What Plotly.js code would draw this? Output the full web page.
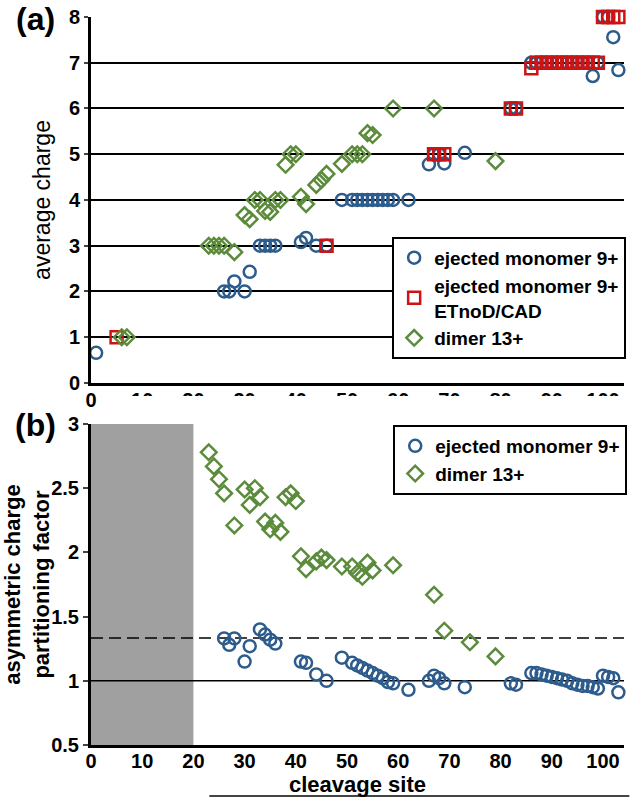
<!DOCTYPE html>
<html>
<head>
<meta charset="utf-8">
<script src="https://cdn.plot.ly/plotly-3.0.1.min.js"></script>
<style>html,body{margin:0;padding:0;background:#fff}</style>
</head>
<body>
<div id="chart" style="width:630px;height:797px"></div>
<script>
// (a) average charge vs cleavage site
var monoSiteA = [1, 26, 27, 28, 30, 31, 33, 34, 35, 36, 41, 42, 44, 46,
  49, 51, 52, 53, 54, 55, 56, 57, 58, 59, 62, 66, 67, 68, 69, 73, 82, 83,
  86, 87, 88, 89, 90, 91, 92, 93, 94, 95, 96, 97, 98, 99, 100, 101, 102, 103];
var monoChargeA = [0.66, 2, 2, 2.22, 2, 2.43, 3, 3, 3, 3, 3.08, 3.17, 3, 3,
  4, 4, 4, 4, 4, 4, 4, 4, 4, 4, 4, 4.78, 5, 5, 4.8, 5.03, 6, 6,
  7, 7, 7, 7, 7, 7, 7, 7, 7, 7, 7, 7, 6.71, 7, 8, 8, 7.56, 6.84];

var etdSiteA = [5, 46, 67, 68, 69, 82, 83, 86, 87, 88, 89, 90, 91, 92, 93,
  94, 95, 96, 97, 98, 99, 100, 101, 102, 103];
var etdChargeA = [1, 3, 5, 5, 5, 6, 6, 6.88, 7, 7, 7, 7, 7, 7, 7,
  7, 7, 7, 7, 7, 7, 8, 8, 8, 8];

var dimerSiteA = [6, 7, 23, 24, 25, 26, 28, 30, 31, 32, 33, 34, 35, 36, 37,
  38, 39, 40, 41, 42, 44, 45, 46, 49, 51, 52, 53, 54, 55, 59, 67, 79];
var dimerChargeA = [1, 1, 3, 3, 3, 3, 2.86, 3.67, 3.58, 4, 4, 3.76, 3.74, 4, 4,
  4.77, 5, 5, 4.07, 3.91, 4.33, 4.44, 4.57, 4.79, 5, 5, 5, 5.46, 5.42, 6, 6, 4.85];

// (b) asymmetric charge partitioning factor
var monoSiteB = [26, 27, 28, 30, 31, 33, 34, 35, 36, 41, 42, 44, 46,
  49, 51, 52, 53, 54, 55, 56, 57, 58, 59, 62, 66, 67, 68, 69, 73, 82, 83,
  86, 87, 88, 89, 90, 91, 92, 93, 94, 95, 96, 97, 98, 99, 100, 101, 102, 103];
var monoFactorB = [1.33, 1.28, 1.33, 1.15, 1.27, 1.40, 1.36, 1.32, 1.29, 1.15, 1.14, 1.05, 1.00,
  1.18, 1.14, 1.12, 1.10, 1.08, 1.06, 1.04, 1.02, 0.99, 0.98, 0.93, 1.00, 1.04, 1.02, 0.98, 0.95, 0.98, 0.97,
  1.06, 1.06, 1.05, 1.04, 1.03, 1.02, 1.01, 1.00, 0.98, 0.97, 0.96, 0.96, 0.95, 0.94, 1.04, 1.03, 1.02, 0.91];

var dimerSiteB = [23, 24, 25, 26, 28, 30, 31, 32, 33, 34, 35, 36, 37, 38, 39, 40,
  41, 42, 44, 45, 46, 49, 51, 52, 53, 54, 55, 59, 67, 69, 74, 79];
var dimerFactorB = [2.78, 2.67, 2.57, 2.46, 2.21, 2.49, 2.37, 2.50, 2.43, 2.24, 2.18, 2.23, 2.16, 2.43, 2.46, 2.40,
  1.97, 1.87, 1.93, 1.96, 1.94, 1.89, 1.89, 1.84, 1.81, 1.92, 1.86, 1.90, 1.67, 1.39, 1.30, 1.19];

var siteTicks = [0, 10, 20, 30, 40, 50, 60, 70, 80, 90, 100];
var chargeTicks = [0, 1, 2, 3, 4, 5, 6, 7, 8];
var factorTicks = [0.5, 1, 1.5, 2, 2.5, 3];
var siteMax = 104.1;
var shadedEnd = 20;
var evenLevel = 1;
var dashedLevel = 4 / 3;

var blue = '#2d5c8c', red = '#cc1414', green = '#5b8b3b';
var ff = 'Liberation Sans, Arial, sans-serif';

function bold(v) { return '<b>' + v + '</b>'; }

function pts(x, y, name, sym, col, xa, ya, leg) {
  return {
    x: x, y: y, name: name, mode: 'markers', type: 'scatter',
    xaxis: xa, yaxis: ya, legend: leg, cliponaxis: false,
    marker: {symbol: sym, size: 12, color: col, line: {color: col, width: 2.5}}
  };
}

function refLine(level, dash) {
  return {
    x: [0, siteMax], y: [level, level], mode: 'lines', type: 'scatter',
    xaxis: 'x2', yaxis: 'y2', showlegend: false, hoverinfo: 'skip',
    line: {color: '#000', width: 1.5, dash: dash}
  };
}

// sites below 20 are not evaluated in (b)
var shade = {
  x: [0, shadedEnd, shadedEnd, 0], y: [0.5, 0.5, 3, 3], type: 'scatter', mode: 'lines',
  xaxis: 'x2', yaxis: 'y2', fill: 'toself', fillcolor: '#a0a0a0',
  line: {width: 0, color: '#a0a0a0'}, showlegend: false, hoverinfo: 'skip'
};

var data = [
  shade,
  refLine(evenLevel, 'solid'),
  refLine(dashedLevel, '12px,6px'),
  pts(monoSiteA, monoChargeA, 'ejected monomer 9+', 'circle-open', blue, 'x', 'y', 'legend'),
  pts(etdSiteA, etdChargeA, 'ejected monomer 9+<br>ETnoD/CAD', 'square-open', red, 'x', 'y', 'legend'),
  pts(dimerSiteA, dimerChargeA, 'dimer 13+', 'diamond-open', green, 'x', 'y', 'legend'),
  pts(monoSiteB, monoFactorB, 'ejected monomer 9+', 'circle-open', blue, 'x2', 'y2', 'legend2'),
  pts(dimerSiteB, dimerFactorB, 'dimer 13+', 'diamond-open', green, 'x2', 'y2', 'legend2')
];

var tickFont = {family: ff, size: 20, color: '#000'};
var legFont = {family: ff, size: 19, color: '#000', weight: 'bold'};

var layout = {
  width: 630, height: 797,
  margin: {l: 91, r: 3, t: 17, b: 52},
  paper_bgcolor: '#fff', plot_bgcolor: '#fff',
  font: {family: ff, color: '#000'},
  showlegend: true,
  xaxis: {
    domain: [0, 1], anchor: 'y', range: [0, siteMax],
    tickvals: siteTicks, ticktext: siteTicks.map(bold),
    showline: true, linecolor: '#000', linewidth: 3, showgrid: false, zeroline: false,
    ticks: '', tickfont: tickFont, ticklabelstandoff: -3
  },
  yaxis: {
    domain: [0.4973, 1], anchor: 'x', range: [0, 8],
    tickvals: chargeTicks, ticktext: chargeTicks.map(bold),
    showline: true, linecolor: '#000', linewidth: 3, zeroline: false,
    showgrid: true, gridcolor: '#000', gridwidth: 2,
    ticks: 'outside', ticklen: 4, tickwidth: 2, tickfont: tickFont,
    title: {text: 'average charge', font: {family: ff, size: 23, color: '#000'}, standoff: 12}
  },
  xaxis2: {
    domain: [0, 1], anchor: 'y2', range: [0, siteMax],
    tickvals: siteTicks, ticktext: siteTicks.map(bold),
    showline: true, linecolor: '#000', linewidth: 3, showgrid: false, zeroline: false,
    ticks: '', tickfont: tickFont, ticklabelstandoff: -4,
    title: {text: 'cleavage site', font: {family: ff, size: 22, color: '#000', weight: 'bold'}, standoff: 2}
  },
  yaxis2: {
    domain: [0, 0.4409], anchor: 'x2', range: [0.5, 3],
    tickvals: factorTicks, ticktext: factorTicks.map(bold),
    showline: true, linecolor: '#000', linewidth: 3, zeroline: false, showgrid: false,
    ticks: 'outside', ticklen: 5, tickwidth: 2, tickfont: tickFont,
    title: {text: 'asymmetric charge<br>partitioning factor', font: {family: ff, size: 22, color: '#000', weight: 'bold'}, standoff: 2}
  },
  legend: {
    x: 0.565, y: 0.698, xanchor: 'left', yanchor: 'top',
    bgcolor: '#fff', bordercolor: '#000', borderwidth: 2, font: legFont
  },
  legend2: {
    x: 0.567, y: 0.4396, xanchor: 'left', yanchor: 'top',
    bgcolor: '#fff', bordercolor: '#000', borderwidth: 2, font: legFont
  },
  shapes: [
    // panel (b) sits over the lower part of panel (a) tick labels
    {type: 'rect', xref: 'paper', yref: 'paper', x0: 0.012, x1: 1.01, y0: 0.4464, y1: 0.4794,
      fillcolor: '#fff', line: {width: 0}, layer: 'above'},
    {type: 'line', xref: 'paper', yref: 'paper', x0: 0.222, x1: 1.01, y0: -0.07, y1: -0.07,
      line: {color: '#444', width: 2}, layer: 'above'}
  ],
  annotations: [
    {text: '(a)', xref: 'paper', yref: 'paper', x: -0.1045, y: 0.997, showarrow: false,
      xanchor: 'center', yanchor: 'middle', font: {family: ff, size: 32, weight: 'bold', color: '#000'}},
    {text: '(b)', xref: 'paper', yref: 'paper', x: -0.1045, y: 0.4396, showarrow: false,
      xanchor: 'center', yanchor: 'middle', font: {family: ff, size: 32, weight: 'bold', color: '#000'}}
  ]
};

Plotly.newPlot('chart', data, layout, {displayModeBar: false, staticPlot: true});
</script>
</body>
</html>
